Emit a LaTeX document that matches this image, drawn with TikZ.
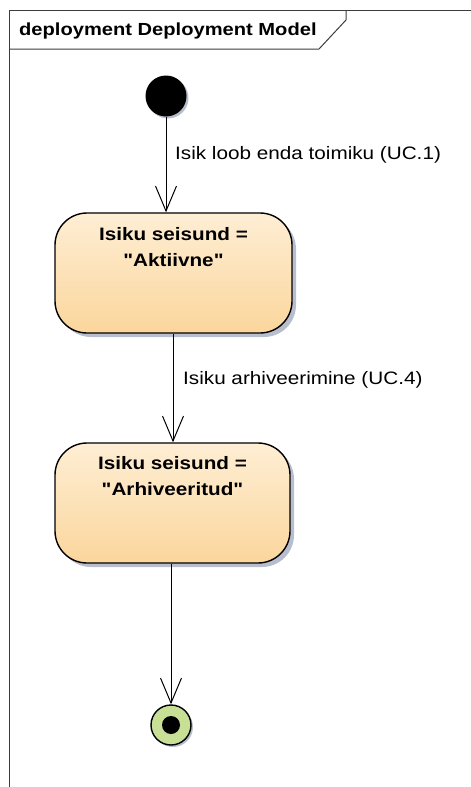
\documentclass[tikz,border=0pt]{standalone}
\usepackage{fontspec}
\setmainfont{Liberation Sans}[FakeStretch=1.15, Ligatures=TeXOff]
\usetikzlibrary{arrows.meta,shadows}

\definecolor{framegray}{RGB}{60,60,60}
\definecolor{statetop}{RGB}{254,238,212}
\definecolor{statebottom}{RGB}{251,214,156}
\definecolor{shadowblue}{RGB}{184,190,206}
\definecolor{finalgreen}{RGB}{199,224,150}

\tikzset{
  frameline/.style={draw=framegray, line width=1pt},
  framelabel/.style={anchor=west, inner sep=0pt, font=\fontsize{17.5}{21}\selectfont\bfseries},
  statebox/.style={draw=black, line width=1.4pt, rounded corners=32pt,
    minimum width=237pt, minimum height=120pt, inner sep=0pt,
    top color=statetop, bottom color=statebottom,
    drop shadow={shadow xshift=4pt, shadow yshift=-4pt, fill=shadowblue, opacity=1}},
  statetext/.style={anchor=north, align=center, inner sep=0pt,
    font=\fontsize{18}{26}\selectfont\bfseries},
  initstate/.style={circle, fill=black, minimum size=41pt, inner sep=0pt,
    drop shadow={shadow xshift=2pt, shadow yshift=-2pt, fill=shadowblue, opacity=1}},
  finalstate/.style={circle, draw=black, line width=1.4pt, fill=finalgreen,
    minimum size=40pt, inner sep=0pt,
    drop shadow={shadow xshift=2pt, shadow yshift=-2pt, fill=shadowblue, opacity=1}},
  finaldot/.style={circle, fill=black, minimum size=18pt, inner sep=0pt},
  flow/.style={draw=black, line width=1pt, -{Straight Barb[length=25pt,width=21pt]}},
  flowlabel/.style={anchor=west, inner sep=0pt, font=\fontsize{18}{21}\selectfont},
}

\begin{document}
\begin{tikzpicture}[x=1pt, y=-1pt]
  \useasboundingbox (0,0) rectangle (471,787);

  % diagram frame with its name tab
  \draw[frameline] (9,787) -- (9,10) -- (471,10);
  \draw[frameline] (9,49) -- (319,49) -- (346,20) -- (346,10);
  \node[framelabel] (title) at (19,31) {deployment Deployment Model};

  % states
  \node[initstate] (init) at (166,96) {};
  \node[statebox] (active) at (173.5,273) {};
  \node[statetext] (activetext) at (173.5,227) {Isiku seisund =\\"Aktiivne"};
  \node[statebox, minimum width=235pt] (archived) at (172.5,503) {};
  \node[statetext] (archivedtext) at (172.5,456) {Isiku seisund =\\"Arhiveeritud"};
  \node[finalstate] (final) at (171,725) {};
  \node[finaldot] (finalcore) at (final.center) {};

  % transitions
  \draw[flow] (init.south) -- (init.south |- active.north);
  \draw[flow] (active.south -| 173,0) -- (archived.north -| 173,0);
  \draw[flow] (archived.south -| final.north) -- (final.north);

  \node[flowlabel] (label1) at (175,155) {Isik loob enda toimiku (UC.1)};
  \node[flowlabel] (label2) at (183,380) {Isiku arhiveerimine (UC.4)};
\end{tikzpicture}
\end{document}
